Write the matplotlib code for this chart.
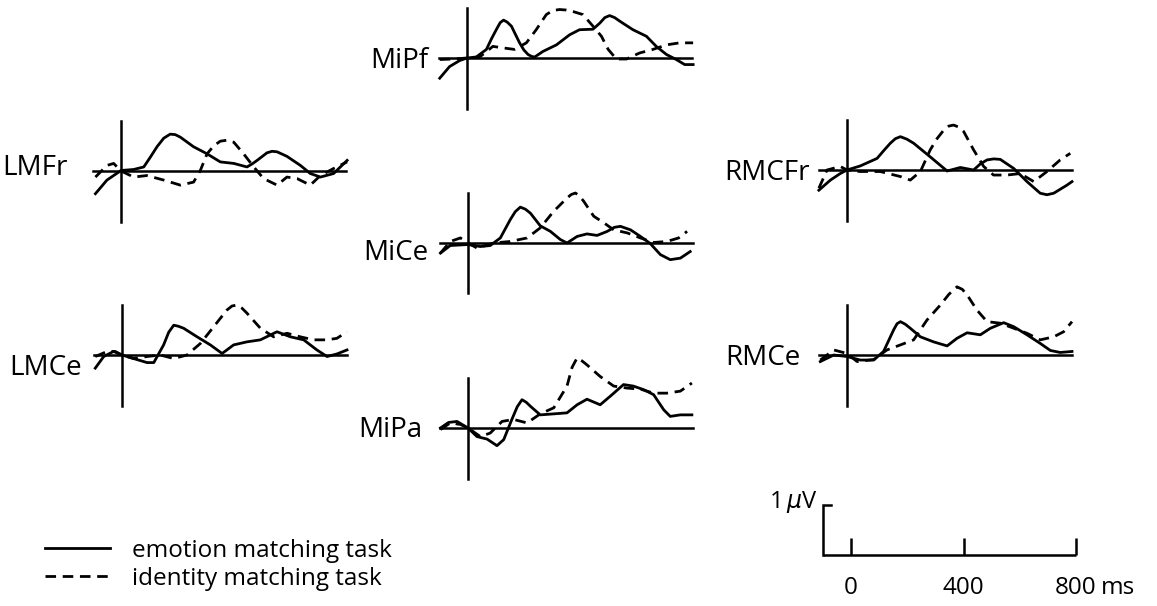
import numpy as np
import matplotlib
matplotlib.use("Agg")
import matplotlib.pyplot as plt
from matplotlib.lines import Line2D

plt.rcParams['font.family'] = ['Open Sans', 'DejaVu Sans']

# ERP traces, time in ms, amplitude in microvolt
mipf_emo_ms = [-97, -62, -26, 0, 33, 69, 87, 104, 118, 130, 143, 158, 172, 187, 202, 217, 230, 241, 270, 318, 365, 400, 448, 472, 490, 507, 525, 543, 590, 638, 673, 709, 744, 774, 804]
mipf_emo_uv = [-0.40, -0.17, -0.05, 0, 0.02, 0.17, 0.38, 0.56, 0.70, 0.75, 0.71, 0.63, 0.47, 0.30, 0.16, 0.07, 0.03, 0.02, 0.13, 0.26, 0.46, 0.56, 0.57, 0.69, 0.80, 0.84, 0.80, 0.73, 0.56, 0.43, 0.23, 0.07, -0.03, -0.13, -0.13]
mipf_id_ms = [-97, -50, 0, 45, 92, 128, 169, 211, 246, 282, 305, 329, 353, 377, 412, 448, 478, 502, 531, 567, 614, 661, 709, 756, 804]
mipf_id_uv = [-0.03, -0.02, 0, 0.02, 0.23, 0.20, 0.17, 0.30, 0.56, 0.86, 0.94, 0.96, 0.95, 0.92, 0.86, 0.63, 0.43, 0.17, -0.02, -0.02, 0.10, 0.17, 0.26, 0.30, 0.30]

lmfr_emo_ms = [-91, -50, 0, 45, 81, 105, 128, 152, 175, 193, 211, 258, 306, 353, 401, 448, 466, 484, 519, 537, 555, 590, 638, 673, 709, 756, 804]
lmfr_emo_uv = [-0.45, -0.18, 0.01, 0.03, 0.08, 0.28, 0.48, 0.65, 0.73, 0.72, 0.67, 0.48, 0.34, 0.18, 0.15, 0.08, 0.14, 0.21, 0.36, 0.39, 0.38, 0.29, 0.11, -0.05, -0.12, -0.05, 0.21]
lmfr_id_ms = [-91, -50, -26, 0, 45, 92, 152, 211, 258, 282, 306, 330, 353, 377, 401, 436, 472, 507, 555, 590, 626, 673, 709, 756, 804]
lmfr_id_uv = [-0.12, 0.11, 0.15, 0, -0.12, -0.09, -0.18, -0.28, -0.22, 0.01, 0.34, 0.50, 0.59, 0.61, 0.57, 0.34, 0.08, -0.15, -0.28, -0.12, -0.15, -0.28, -0.09, 0.05, 0.18]

rmcfr_emo_ms = [-100, -59, -24, 0, 47, 107, 130, 154, 172, 190, 213, 237, 296, 356, 403, 450, 474, 498, 522, 545, 593, 640, 687, 711, 735, 782, 800]
rmcfr_emo_uv = [-0.40, -0.20, -0.07, 0, 0.08, 0.23, 0.38, 0.53, 0.62, 0.66, 0.61, 0.53, 0.26, -0.02, 0.05, 0, 0.12, 0.20, 0.22, 0.21, 0.03, -0.23, -0.46, -0.49, -0.46, -0.30, -0.23]
rmcfr_id_ms = [-100, -71, -24, 0, 47, 118, 190, 225, 261, 296, 320, 344, 362, 379, 397, 415, 450, 486, 521, 569, 616, 664, 711, 758, 794]
rmcfr_id_uv = [-0.36, 0, 0.07, 0, -0.03, -0.03, -0.13, -0.20, -0.03, 0.40, 0.62, 0.79, 0.87, 0.89, 0.85, 0.76, 0.40, 0.07, -0.10, -0.10, -0.07, -0.23, -0.03, 0.20, 0.33]

mice_emo_ms = [-98, -63, 0, 44, 79, 115, 150, 168, 186, 204, 222, 257, 293, 328, 352, 388, 423, 459, 495, 520, 542, 578, 613, 648, 684, 719, 755, 790]
mice_emo_uv = [-0.20, -0.05, -0.03, -0.07, -0.05, 0.10, 0.46, 0.62, 0.71, 0.67, 0.59, 0.34, 0.23, 0.07, 0, 0.13, 0.18, 0.15, 0.23, 0.31, 0.33, 0.26, 0.13, -0.01, -0.23, -0.33, -0.30, -0.17]
mice_id_ms = [-98, -63, -27, 0, 32, 91, 150, 210, 257, 305, 352, 367, 382, 396, 411, 447, 483, 518, 566, 613, 660, 707, 749, 779]
mice_id_uv = [-0.20, 0.03, 0.10, 0, -0.10, 0, 0.03, 0.10, 0.30, 0.63, 0.89, 0.96, 0.99, 0.93, 0.83, 0.53, 0.40, 0.26, 0.20, 0.10, 0.01, 0.03, 0.10, 0.23]

lmce_emo_ms = [-95, -65, -30, 0, 41, 89, 113, 148, 166, 184, 200, 219, 267, 314, 356, 397, 444, 492, 551, 599, 646, 693, 729, 764, 800]
lmce_emo_uv = [-0.26, -0.03, 0.07, 0, -0.07, -0.15, -0.15, 0.20, 0.45, 0.59, 0.57, 0.53, 0.36, 0.20, 0.03, 0.20, 0.26, 0.30, 0.46, 0.36, 0.30, 0.10, -0.03, 0.02, 0.10]
lmce_id_ms = [-95, -53, -24, 0, 41, 89, 136, 184, 231, 279, 326, 373, 391, 409, 426, 444, 492, 539, 587, 634, 681, 729, 764, 800]
lmce_id_uv = [-0.03, 0.07, 0.07, 0, -0.07, -0.03, 0, -0.07, 0, 0.23, 0.56, 0.89, 0.97, 0.99, 0.93, 0.83, 0.53, 0.36, 0.43, 0.36, 0.30, 0.30, 0.33, 0.46]

rmce_emo_ms = [-95, -47, 0, 47, 95, 130, 166, 178, 190, 207, 225, 261, 308, 356, 391, 427, 474, 510, 557, 593, 640, 687, 723, 758, 800]
rmce_emo_uv = [-0.13, 0, -0.03, -0.10, -0.10, 0.07, 0.50, 0.62, 0.66, 0.61, 0.53, 0.36, 0.26, 0.18, 0.33, 0.44, 0.40, 0.53, 0.64, 0.56, 0.40, 0.23, 0.09, 0.05, 0.07]
rmce_id_ms = [-95, -47, 0, 36, 95, 142, 190, 237, 284, 332, 362, 391, 410, 427, 462, 498, 545, 593, 640, 687, 735, 770, 800]
rmce_id_uv = [-0.10, 0.10, 0.03, -0.13, -0.09, 0.10, 0.20, 0.30, 0.69, 0.99, 1.20, 1.35, 1.30, 1.19, 0.89, 0.66, 0.63, 0.53, 0.43, 0.30, 0.36, 0.46, 0.66]

mipa_emo_ms = [-98, -69, -39, 0, 32, 68, 103, 127, 156, 175, 192, 207, 222, 257, 305, 352, 388, 423, 470, 506, 553, 588, 624, 660, 696, 719, 755, 796]
mipa_emo_uv = [0, 0.11, 0.13, 0, -0.17, -0.22, -0.35, -0.23, 0.17, 0.42, 0.56, 0.51, 0.43, 0.26, 0.28, 0.30, 0.46, 0.57, 0.46, 0.63, 0.86, 0.83, 0.76, 0.66, 0.36, 0.23, 0.26, 0.26]
mipa_id_ms = [-98, -63, -27, 0, 44, 79, 121, 162, 210, 257, 305, 352, 370, 388, 405, 423, 470, 518, 566, 613, 660, 707, 755, 796]
mipa_id_uv = [-0.03, 0.10, 0.07, 0, -0.17, -0.10, 0.13, 0.17, 0.10, 0.28, 0.40, 0.83, 1.20, 1.39, 1.33, 1.25, 1.02, 0.83, 0.79, 0.77, 0.69, 0.69, 0.73, 0.89]

channels = ['MiPf', 'LMFr', 'RMCFr', 'MiCe', 'LMCe', 'RMCe', 'MiPa']
traces = {
    'MiPf': (mipf_emo_ms, mipf_emo_uv, mipf_id_ms, mipf_id_uv),
    'LMFr': (lmfr_emo_ms, lmfr_emo_uv, lmfr_id_ms, lmfr_id_uv),
    'RMCFr': (rmcfr_emo_ms, rmcfr_emo_uv, rmcfr_id_ms, rmcfr_id_uv),
    'MiCe': (mice_emo_ms, mice_emo_uv, mice_id_ms, mice_id_uv),
    'LMCe': (lmce_emo_ms, lmce_emo_uv, lmce_id_ms, lmce_id_uv),
    'RMCe': (rmce_emo_ms, rmce_emo_uv, rmce_id_ms, rmce_id_uv),
    'MiPa': (mipa_emo_ms, mipa_emo_uv, mipa_id_ms, mipa_id_uv),
}
legend_labels = ['emotion matching task', 'identity matching task']
scale_ticks = [0, 400, 800]

# layout: pixel position of (0 ms, 0 uV) in each panel, label right end (px) and label baseline (px)
W, H = 1157, 606
PX_MS = 0.28125
PX_UV = 50.5
origin = {'MiPf': (467, 58), 'LMFr': (121, 171), 'RMCFr': (847, 170), 'MiCe': (468, 243),
          'LMCe': (122, 355), 'RMCe': (847, 355), 'MiPa': (468, 428)}
label_pos = {'MiPf': (428, 68), 'LMFr': (68, 175), 'RMCFr': (810, 180), 'MiCe': (428, 260),
             'LMCe': (82, 375), 'RMCe': (800, 365), 'MiPa': (422, 437)}

LW = 2.0
DASH = (0, (3.8, 2.4))

fig = plt.figure(figsize=(W / 100, H / 100), dpi=100)


def make_axes(x0, y0, ylo, yhi):
    left = x0 - 100 * PX_MS
    bottom = H - y0 + ylo * PX_UV
    ax = fig.add_axes([left / W, bottom / H, 900 * PX_MS / W, (yhi - ylo) * PX_UV / H])
    ax.set_xlim(-100, 800)
    ax.set_ylim(ylo, yhi)
    ax.axis('off')
    return ax


for ch in channels:
    x0, y0 = origin[ch]
    ax = make_axes(x0, y0, -1, 1)
    ax.axhline(0, color='black', lw=1.8, clip_on=False)
    ax.axvline(0, color='black', lw=1.8, clip_on=False)
    t1, v1, t2, v2 = traces[ch]
    ax.plot(t1, v1, color='black', lw=LW, clip_on=False, solid_joinstyle='round')
    ax.plot(t2, v2, color='black', lw=LW, ls=DASH, clip_on=False)
    lx, ly = label_pos[ch]
    ax.text((lx - x0) / PX_MS, (y0 - ly) / PX_UV, ch, ha='right', va='baseline',
            fontsize=20, clip_on=False)

# scale bar
sb = make_axes(851, 555, 0, 1)
sb.plot([-100, 800], [0, 0], color='black', lw=1.8, solid_capstyle='butt', clip_on=False)
sb.plot([-70, -100, -100], [1, 1, 0], color='black', lw=1.8, solid_joinstyle='miter', clip_on=False)
sb.vlines(scale_ticks, 0, 0.33, color='black', lw=1.8, clip_on=False)
for t in scale_ticks:
    sb.text(t, -0.65, str(t), ha='center', va='center', fontsize=17.5, clip_on=False)
sb.annotate('ms', xy=(800, -0.65), xytext=(25, 0), textcoords='offset pixels',
            ha='left', va='center', fontsize=17.5, annotation_clip=False)
sb.text(-118, 1.05, r'1$\,\mu$V', ha='right', va='center', fontsize=17, clip_on=False)

handles = [Line2D([], [], color='black', lw=LW),
           Line2D([], [], color='black', lw=LW, ls=DASH)]
fig.legend(handles, legend_labels, loc='upper left', bbox_to_anchor=(45 / W, 1 - 539 / H),
           frameon=False, fontsize=17.5, borderpad=0, borderaxespad=0,
           handlelength=2.67, handletextpad=0.9, labelspacing=0.15)

fig.savefig('out.png', dpi=100, facecolor='white')
